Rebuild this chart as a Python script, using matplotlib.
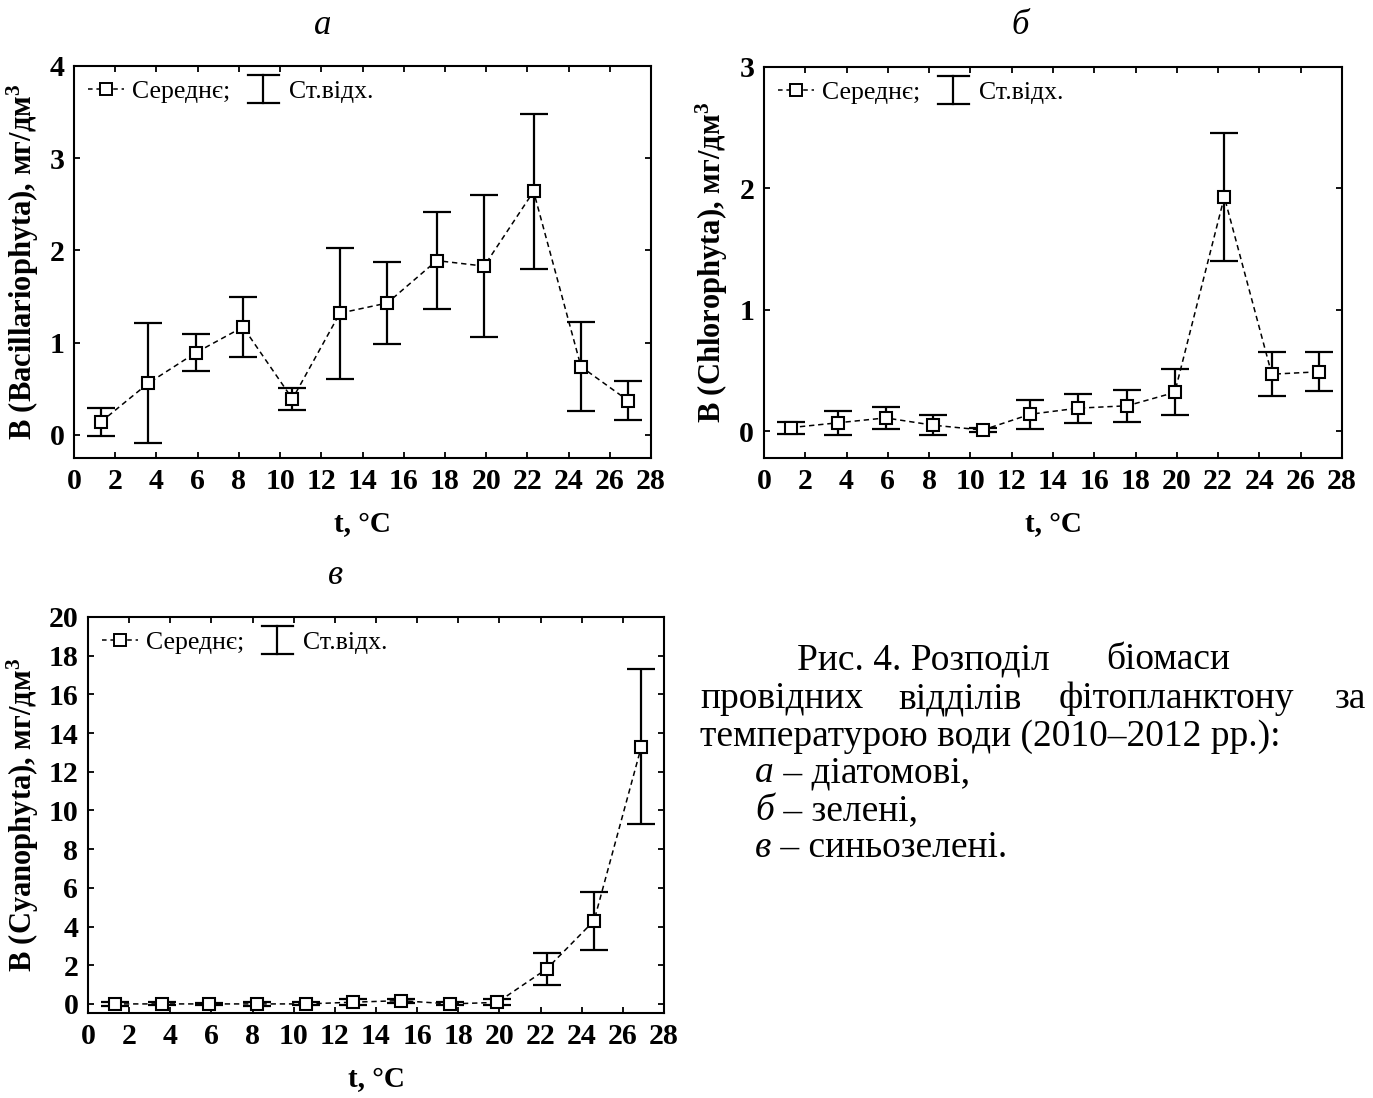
import matplotlib
matplotlib.use("Agg")
import matplotlib.pyplot as plt
from matplotlib.lines import Line2D
from matplotlib.legend_handler import HandlerBase

plt.rcParams['font.family'] = ['Liberation Serif', 'DejaVu Serif']
plt.rcParams['mathtext.fontset'] = 'custom'
plt.rcParams['mathtext.rm'] = 'Liberation Serif:bold'
plt.rcParams['mathtext.it'] = 'Liberation Serif:bold'

# температура, °C
t = [1.3, 3.6, 5.9, 8.2, 10.6, 12.9, 15.2, 17.6, 19.9, 22.3, 24.6, 26.9]

# а - Bacillariophyta
bac_mean = [0.14, 0.56, 0.89, 1.17, 0.39, 1.32, 1.43, 1.89, 1.83, 2.64, 0.74, 0.37]
bac_sd = [0.15, 0.65, 0.20, 0.33, 0.12, 0.71, 0.44, 0.53, 0.77, 0.84, 0.48, 0.21]

# б - Chlorophyta
chl_mean = [0.03, 0.07, 0.11, 0.05, 0.01, 0.14, 0.19, 0.21, 0.32, 1.93, 0.47, 0.49]
chl_sd = [0.05, 0.10, 0.09, 0.08, 0.02, 0.12, 0.12, 0.13, 0.19, 0.53, 0.18, 0.16]

# в - Cyanophyta
cya_mean = [0.0, 0.0, 0.0, 0.0, 0.0, 0.09, 0.17, 0.0, 0.08, 1.81, 4.3, 13.3]
cya_sd = [0.12, 0.08, 0.05, 0.1, 0.08, 0.15, 0.1, 0.08, 0.15, 0.82, 1.5, 4.0]

xticks = list(range(0, 29, 2))


class HandlerEB(HandlerBase):
    # значок "Ст.відх." - вертикальна риска з засічками
    def create_artists(self, legend, orig_handle, xdescent, ydescent,
                       width, height, fontsize, trans):
        cx = width / 2 - xdescent
        cy = height / 2 - ydescent
        h = 0.55 * fontsize
        w = 0.6 * fontsize
        arts = [Line2D([cx, cx], [cy - h, cy + h]),
                Line2D([cx - w, cx + w], [cy + h, cy + h]),
                Line2D([cx - w, cx + w], [cy - h, cy - h])]
        for a in arts:
            a.set_color('k')
            a.set_linewidth(1.6)
            a.set_transform(trans)
        return arts


fig = plt.figure(figsize=(13.73, 10.98), dpi=100)

panels = [
    ([0.0539, 0.5829, 0.4203, 0.3570], bac_mean, bac_sd, (-0.25, 4), range(0, 5),
     r'B (Bacillariophyta), мг/дм$^{3}$', -0.058, 'а', (0.235, 0.977)),
    ([0.5564, 0.5829, 0.4210, 0.3561], chl_mean, chl_sd, (-0.22, 3), range(0, 4),
     r'B (Chlorophyta), мг/дм$^{3}$', -0.059, 'б', (0.743, 0.977)),
    ([0.0641, 0.0774, 0.4195, 0.3607], cya_mean, cya_sd, (-0.47, 20), range(0, 21, 2),
     r'B (Cyanophyta), мг/дм$^{3}$', -0.082, 'в', (0.244, 0.476)),
]

for rect, mean, sd, ylim, yticks, ylabel, ylx, letter, lpos in panels:
    ax = fig.add_axes(rect)
    ax.errorbar(t, mean, yerr=sd, fmt='none', ecolor='k', elinewidth=1.6,
                capsize=10, capthick=1.6, zorder=2)
    ax.plot(t, mean, color='k', ls=(0, (3.5, 2.5)), lw=1.1, marker='s', ms=8.5,
            mfc='white', mec='k', mew=1.5, zorder=3)
    ax.set_xlim(0, 28)
    ax.set_ylim(*ylim)
    ax.set_xticks(xticks)
    ax.set_yticks(list(yticks))
    ax.tick_params(direction='in', top=True, right=True, length=4, width=1.3,
                   labelsize=21.5, pad=7)
    for lab in ax.get_xticklabels() + ax.get_yticklabels():
        lab.set_fontweight('bold')
    for s in ax.spines.values():
        s.set_linewidth(1.5)
    ax.set_ylabel(ylabel, fontsize=22, fontweight='bold')
    ax.yaxis.set_label_coords(ylx, 0.5)
    ax.set_xlabel('t, °C', fontsize=21, fontweight='bold')
    ax.xaxis.set_label_coords(0.5, -0.135)

    h1 = Line2D([], [], color='k', ls=(0, (3, 2.5)), lw=1.1, marker='s', ms=8,
                mfc='white', mec='k', mew=1.4)
    h2 = Line2D([], [])
    ax.legend([h1, h2], ['Середнє;', 'Ст.відх.'], loc='upper left', ncol=2,
              frameon=False, fontsize=18.5, handlelength=1.4, handletextpad=0.3,
              columnspacing=0.6, borderaxespad=0.15,
              handler_map={h2: HandlerEB()})

    fig.text(lpos[0], lpos[1], letter, fontsize=25, style='italic',
             ha='center', va='center')

# підпис до рисунка
cap = 27
fig.text(797 / 1373, 1 - 660 / 1098, 'Рис. 4. Розподіл', fontsize=cap, va='center')
fig.text(1106 / 1373, 1 - 660 / 1098, 'біомаси', fontsize=cap, va='center')
fig.text(700 / 1373, 1 - 699 / 1098, 'провідних', fontsize=cap, va='center')
fig.text(898 / 1373, 1 - 699 / 1098, 'відділів', fontsize=cap, va='center')
fig.text(1059 / 1373, 1 - 699 / 1098, 'фітопланктону', fontsize=cap, va='center')
fig.text(1366 / 1373, 1 - 699 / 1098, 'за', fontsize=cap, va='center', ha='right')
fig.text(700 / 1373, 1 - 737 / 1098, 'температурою води (2010–2012 рр.):',
         fontsize=cap, va='center')

fig.canvas.draw()
rend = fig.canvas.get_renderer()
for i, (lt, rest) in enumerate([('а', ' – діатомові,'), ('б', ' – зелені,'),
                                ('в', ' – синьозелені.')]):
    y = 1 - (773 + 37.5 * i) / 1098
    tx = fig.text(755 / 1373, y, lt, fontsize=cap, style='italic', va='center')
    bb = tx.get_window_extent(renderer=rend)
    fig.text(bb.x1 / 1373, y, rest, fontsize=cap, va='center')

fig.savefig('out.png', dpi=100)
